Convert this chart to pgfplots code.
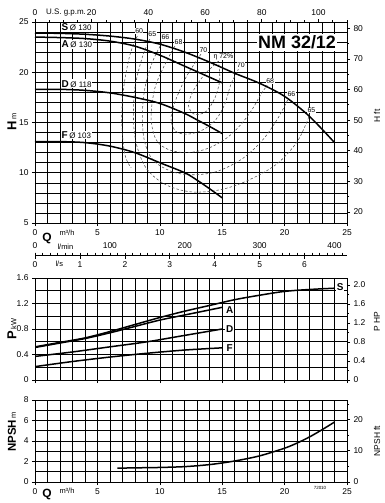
\documentclass[border=0pt]{standalone}
\usepackage{fontspec}
\setmainfont{Liberation Sans}
\usepackage{pgfplots}
\pgfplotsset{compat=1.18}
\pgfplotsset{
 base/.style={scale only axis, width=312bp, xmin=0, xmax=25,
  axis line style={black, line width=0.9bp},
  grid=both, grid style={black, line width=0.6bp}, minor grid style={black, line width=0.6bp},
  minor xtick={0,1,...,25}, tick align=outside, major tick length=3bp, minor tick length=0bp,
  xtick pos=bottom, ytick pos=left,
  /pgf/number format/assume math mode=true,
  tick label style={font=\fontsize{8.5}{9}\selectfont},
  every tick/.style={black, line width=0.6bp}},
 over/.style={scale only axis, width=312bp,
  axis line style={black, line width=0.9bp},
  tick align=outside, major tick length=3bp, minor tick length=2bp,
  /pgf/number format/assume math mode=true,
  tick label style={font=\fontsize{8.5}{9}\selectfont},
  every tick/.style={black, line width=0.6bp}},
}
\tikzset{
 curve/.style={black, line width=1.5bp, smooth},
 eff/.style={black!70, line width=0.55bp, dash pattern=on 2.5bp off 2bp, smooth, tension=0.55},
 elab/.style={fill=white, inner sep=0.4bp, font=\fontsize{7}{7.5}\selectfont},
 clab/.style={fill=white, inner sep=0.8bp, font=\fontsize{10}{11}\selectfont\bfseries},
}
\begin{document}
\begin{tikzpicture}
% ---------------- H panel ----------------
\begin{axis}[base, at={(35bp,-223bp)}, anchor=south west, height=201bp,
  ymin=5, ymax=25, xtick={0,5,...,25}, ytick={5,10,...,25}, minor ytick={5,6,...,25}]
% efficiency curves
\addplot[eff, no marks] coordinates {(8.2,23.6)(7.6,21.7)(7.1,18.4)(6.95,15.1)(7.2,11.8)(7.7,10.5)};
\addplot[eff, no marks] coordinates {(9.2,23.3)(8.6,21.5)(8.0,18.4)(7.9,15.0)(8.2,12.5)(9.0,10.3)(10.5,8.8)(12.5,8.1)(14.8,8.3)(17,9.2)(19.3,10.8)(20.9,12.9)(21.7,14.8)(22.0,15.8)};
\addplot[eff, no marks] coordinates {(10.2,23.0)(9.4,21)(8.8,18.4)(8.6,15.5)(8.8,13)(9.5,11.2)(11,10.1)(12.6,9.8)(14.5,10.1)(16.5,11.3)(18.2,13.2)(19.5,15.5)(20.3,17.4)};
\addplot[eff, no marks] coordinates {(11.2,22.6)(10.3,20.5)(9.6,18.4)(9.3,15.5)(9.7,13.3)(10.7,12.3)(12.2,12.0)(13.8,12.4)(15.3,13.4)(16.5,14.8)(17.4,16.3)(18.1,17.8)(18.6,18.7)};
\addplot[eff, no marks] coordinates {(13.3,21.8)(12.1,19.5)(11.2,17)(10.9,15.3)(11.3,14.1)(12.3,13.85)(13.5,14.3)(14.5,15.3)(15.2,16.8)(15.7,18.8)(16.3,20.3)};
\addplot[eff, no marks] coordinates {(14.7,21.1)(13.6,19.8)(12.7,18.2)(12.3,16.7)(12.8,15.8)(13.7,16.1)(14.4,17.4)(14.8,19.2)(14.7,21.1)};
% head curves
\addplot[curve, no marks] coordinates {(0,23.9)(2,23.87)(4,23.78)(6,23.6)(8,23.3)(10,22.8)(12,22.0)(14,21.0)(16,19.9)(18,18.9)(20,17.6)(22,15.6)(24,13.0)};
\addplot[curve, no marks] coordinates {(0,23.5)(2,23.45)(4,23.35)(6,23.1)(8,22.6)(10,21.7)(12,20.6)(13,20.05)(14,19.5)(15,18.95)};
\addplot[curve, no marks] coordinates {(0,18.3)(2,18.3)(4,18.2)(6,17.95)(8,17.5)(10,16.9)(12,15.9)(13,15.25)(14,14.6)(15,13.9)};
\addplot[curve, no marks] coordinates {(0,13.1)(2,13.1)(4,13.0)(6,12.65)(8,12.0)(10,11.0)(12,10.0)(13,9.25)(14,8.4)(15,7.5)};
% labels
\node[fill=white, inner sep=0.8bp, anchor=west] at (axis cs:2.05,24.45) {{\fontsize{10}{11}\selectfont\bfseries S}\,{\fontsize{8}{9}\selectfont Ø 130}};
\node[fill=white, inner sep=0.8bp, anchor=west] at (axis cs:2.05,22.75) {{\fontsize{10}{11}\selectfont\bfseries A}\,{\fontsize{8}{9}\selectfont Ø 130}};
\node[fill=white, inner sep=0.8bp, anchor=west] at (axis cs:2.05,18.85) {{\fontsize{10}{11}\selectfont\bfseries D}\,{\fontsize{8}{9}\selectfont Ø 118}};
\node[fill=white, inner sep=0.8bp, anchor=west] at (axis cs:2.05,13.75) {{\fontsize{10}{11}\selectfont\bfseries F}\,{\fontsize{8}{9}\selectfont Ø 103}};
\node[elab] at (axis cs:8.35,24.1) {60};
\node[elab] at (axis cs:9.4,23.75) {65};
\node[elab] at (axis cs:10.45,23.45) {66};
\node[elab] at (axis cs:11.5,23.0) {68};
\node[elab] at (axis cs:13.5,22.2) {70};
\node[elab] at (axis cs:15.1,21.55) {η 72\%};
\node[elab] at (axis cs:16.5,20.75) {70};
\node[elab] at (axis cs:18.85,19.1) {68};
\node[elab] at (axis cs:20.55,17.8) {66};
\node[elab] at (axis cs:22.15,16.2) {65};
\node[fill=white, inner sep=1.5bp, font=\fontsize{18}{19}\selectfont\bfseries] at (axis cs:21.0,22.95) {NM 32/12};
\end{axis}
% gpm top and ft right
\begin{axis}[over, at={(35bp,-223bp)}, anchor=south west, height=201bp,
  xmin=0, xmax=110.07, ymin=16.404, ymax=82.021,
  axis x line*=top, axis y line*=right,
  xtick={0,20,...,100}, minor xtick={0,5,...,110},
  ytick={20,30,...,80}, minor ytick={20,25,...,80}]
\end{axis}
% l/min axis
\begin{axis}[over, at={(35bp,-256bp)}, anchor=south west, height=1bp,
  xmin=0, xmax=416.67, ymin=0, ymax=1, axis x line*=top, axis y line=none,
  xtick={0,100,...,400}, minor xtick={0,10,...,410}, major tick length=2.5bp, minor tick length=2.5bp]
\end{axis}
% l/s axis
\begin{axis}[over, at={(35bp,-255bp)}, anchor=south west, height=1bp,
  xmin=0, xmax=6.9444, ymin=0, ymax=1, axis x line*=bottom, axis y line=none,
  xtick={0,...,6}, major tick length=3.5bp]
\end{axis}
% ---------------- P panel ----------------
\begin{axis}[base, at={(35bp,-380bp)}, anchor=south west, height=102bp,
  ymin=0, ymax=1.6, xtick={0,5,...,25}, xticklabels={},
  ytick={0,0.4,0.8,1.2,1.6}, yticklabels={0,0.4,0.8,1.2,1.6},
  minor ytick={0,0.2,0.4,0.6,0.8,1.0,1.2,1.4,1.6}]
\addplot[curve, no marks] coordinates {(0,0.52)(2,0.59)(4,0.66)(6,0.76)(8,0.87)(10,0.98)(12,1.08)(14,1.17)(16,1.26)(18,1.33)(20,1.39)(22,1.42)(24,1.44)};
\addplot[curve, no marks] coordinates {(0,0.51)(2,0.58)(4,0.65)(6,0.74)(8,0.84)(10,0.94)(12,1.02)(14,1.10)(15,1.14)};
\addplot[curve, no marks] coordinates {(0,0.37)(3,0.44)(6,0.52)(9,0.6)(12,0.7)(15,0.80)};
\addplot[curve, no marks] coordinates {(0,0.21)(3,0.29)(6,0.36)(9,0.42)(12,0.47)(15,0.505)};
\node[clab] at (axis cs:24.45,1.46) {S};
\node[clab] at (axis cs:15.6,1.10) {A};
\node[clab] at (axis cs:15.6,0.80) {D};
\node[clab] at (axis cs:15.6,0.505) {F};
\end{axis}
\begin{axis}[over, at={(35bp,-380bp)}, anchor=south west, height=102bp,
  xmin=0, xmax=25, ymin=0, ymax=2.1457, axis x line=none, axis y line*=right,
  ytick={0,0.4,0.8,1.2,1.6,2.0}, yticklabels={0,0.4,0.8,1.2,1.6,2.0},
  minor ytick={0.2,0.6,1.0,1.4,1.8}]
\end{axis}
% ---------------- NPSH panel ----------------
\begin{axis}[base, at={(35bp,-482bp)}, anchor=south west, height=82bp,
  ymin=0, ymax=8, xtick={0,5,...,25}, ytick={0,2,...,8}, minor ytick={0,1,...,8}]
\addplot[curve, no marks] coordinates {(6.6,1.35)(8,1.38)(10,1.42)(12,1.5)(14,1.7)(16,2.05)(18,2.55)(20,3.3)(21,3.8)(22,4.4)(23,5.1)(24,5.85)};
\end{axis}
\begin{axis}[over, at={(35bp,-482bp)}, anchor=south west, height=82bp,
  xmin=0, xmax=25, ymin=0, ymax=26.247, axis x line=none, axis y line*=right,
  ytick={0,10,20}, minor ytick={5,15,25}]
\end{axis}
% ---------------- texts ----------------
\node[font=\fontsize{8}{9}\selectfont] at (66bp,-12.5bp) {U.S. g.p.m.};
\node[rotate=90] at (12bp,-122bp) {{\fontsize{13}{13}\selectfont\bfseries H}\,{\fontsize{7.5}{8}\selectfont m}};
\node[rotate=90, font=\fontsize{8.5}{9}\selectfont] at (377bp,-116bp) {H ft};
\node[rotate=90] at (12bp,-329bp) {{\fontsize{13}{13}\selectfont\bfseries P}\,{\fontsize{7.5}{8}\selectfont kW}};
\node[rotate=90, font=\fontsize{8.5}{9}\selectfont] at (377bp,-322bp) {P HP};
\node[rotate=90] at (12bp,-432bp) {{\fontsize{11.5}{12}\selectfont\bfseries NPSH}\,{\fontsize{7.5}{8}\selectfont m}};
\node[rotate=90, font=\fontsize{8.5}{9}\selectfont] at (377bp,-441bp) {NPSH ft};
\node[font=\fontsize{12}{12}\selectfont\bfseries] at (47bp,-238bp) {Q};
\node[font=\fontsize{7.5}{8}\selectfont, anchor=west] at (56bp,-233bp) {m³/h};
\node[font=\fontsize{7.5}{8}\selectfont, anchor=west] at (54bp,-246.5bp) {l/min};
\node[font=\fontsize{7.5}{8}\selectfont, anchor=west] at (52bp,-263.5bp) {l/s};
\node[font=\fontsize{12}{12}\selectfont\bfseries] at (47bp,-494bp) {Q};
\node[font=\fontsize{7.5}{8}\selectfont, anchor=west] at (56bp,-491bp) {m³/h};
\node[font=\fontsize{4.5}{5}\selectfont] at (320bp,-487.5bp) {72010};
\pgfresetboundingbox
\useasboundingbox (0,0) rectangle (385bp,-503bp);
\end{tikzpicture}
\end{document}
